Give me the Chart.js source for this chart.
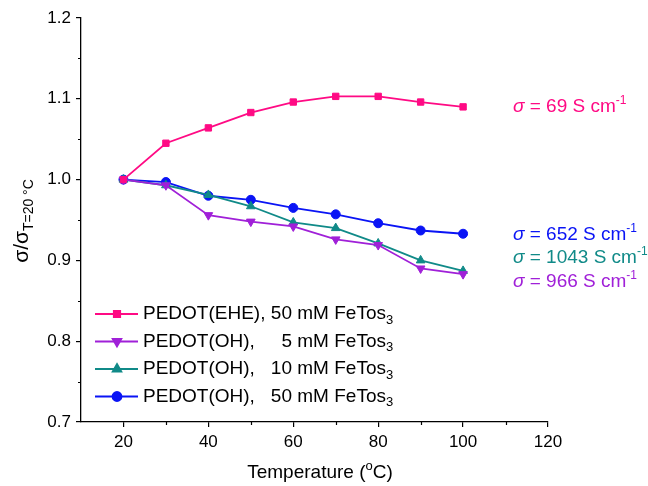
<!DOCTYPE html>
<html>
<head>
<meta charset="utf-8">
<script src="https://cdn.jsdelivr.net/npm/chart.js@4.4.0/dist/chart.umd.min.js"></script>
<style>
  html, body { margin: 0; padding: 0; background: #fff; }
</style>
</head>
<body>
<canvas id="c" width="648" height="486"></canvas>
<script>
// ---- data ----
const temps = [20, 30, 40, 50, 60, 70, 80, 90, 100];
const ehe50 = [1.000, 1.045, 1.064, 1.083, 1.096, 1.103, 1.103, 1.096, 1.090];
const oh5   = [1.000, 0.993, 0.956, 0.948, 0.942, 0.926, 0.919, 0.890, 0.883];
const oh10  = [1.000, 0.993, 0.981, 0.967, 0.947, 0.940, 0.921, 0.900, 0.887];
const oh50  = [1.000, 0.997, 0.980, 0.975, 0.965, 0.957, 0.946, 0.937, 0.933];

const seriesPolymer = ['PEDOT(EHE),', 'PEDOT(OH),', 'PEDOT(OH),', 'PEDOT(OH),'];
const seriesConc    = ['50', '5', '10', '50'];
const sigmaLabels   = ['69', '966', '1043', '652'];

const xTicks = [20, 40, 60, 80, 100, 120];
const xMinor = [30, 50, 70, 90, 110];
const yTicks = [0.7, 0.8, 0.9, 1.0, 1.1, 1.2];
const yMinor = [0.75, 0.85, 0.95, 1.05, 1.15];

const colors = ['#ff0a84', '#a020d8', '#108a88', '#0a14f5'];
const FONT = '"Liberation Sans", Arial, sans-serif';

const toPts = (ys) => temps.map((t, i) => ({ x: t, y: ys[i] }));

const datasets = [
    { data: toPts(ehe50), pointStyle: 'rect',     pointRotation: 0,   pointRadius: 4.5 },
    { data: toPts(oh5),   pointStyle: 'triangle', pointRotation: 180, pointRadius: 5 },
    { data: toPts(oh10),  pointStyle: 'triangle', pointRotation: 0,   pointRadius: 5 },
    { data: toPts(oh50),  pointStyle: 'circle',   pointRotation: 0,   pointRadius: 4.5 }
].map((d, i) => Object.assign(d, {
    label: seriesPolymer[i] + ' ' + seriesConc[i] + ' mM FeTos3',
    borderColor: colors[i],
    backgroundColor: colors[i],
    pointBackgroundColor: colors[i],
    pointBorderColor: colors[i],
    borderWidth: 1.8,
    pointBorderWidth: 1,
    tension: 0,
    fill: false
}));

// draws a run of text pieces, each with its own font / vertical shift
function richText(ctx, parts, x, y, align) {
    let total = 0;
    parts.forEach(p => { ctx.font = p.font; total += ctx.measureText(p.t).width; });
    let cx = align === 'center' ? x - total / 2 : x;
    ctx.textAlign = 'left';
    ctx.textBaseline = 'alphabetic';
    parts.forEach(p => {
        ctx.font = p.font;
        ctx.fillText(p.t, cx, y + (p.dy || 0));
        cx += ctx.measureText(p.t).width;
    });
}

const overlay = {
    id: 'overlay',
    afterDraw(chart) {
        const ctx = chart.ctx;
        const xs = chart.scales.x, ys = chart.scales.y;
        ctx.save();

        // minor ticks (shorter, outward)
        ctx.strokeStyle = '#000';
        ctx.lineWidth = 1.2;
        ctx.beginPath();
        xMinor.forEach(v => {
            const px = Math.round(xs.getPixelForValue(v)) + 0.5;
            ctx.moveTo(px, ys.bottom); ctx.lineTo(px, ys.bottom + 3);
        });
        yMinor.forEach(v => {
            const py = Math.round(ys.getPixelForValue(v)) + 0.5;
            ctx.moveTo(xs.left, py); ctx.lineTo(xs.left - 3, py);
        });
        ctx.stroke();

        // legend
        const rows = [314, 341.5, 369, 396.5];
        datasets.forEach((ds, i) => {
            const y = rows[i];
            ctx.strokeStyle = ds.borderColor;
            ctx.lineWidth = 1.8;
            ctx.beginPath(); ctx.moveTo(95, y); ctx.lineTo(138, y); ctx.stroke();
            ctx.fillStyle = ds.borderColor;
            Chart.helpers.drawPoint(ctx, { pointStyle: ds.pointStyle, radius: ds.pointRadius, rotation: ds.pointRotation, borderWidth: 1 }, 117, y);
            ctx.fillStyle = '#000';
            ctx.font = '19px ' + FONT;
            ctx.textBaseline = 'middle';
            ctx.textAlign = 'left';
            ctx.fillText(seriesPolymer[i], 143, y);
            ctx.textAlign = 'right';
            ctx.fillText(seriesConc[i], 292, y);
            ctx.textAlign = 'left';
            ctx.fillText(' mM FeTos', 292, y);
            const w = ctx.measureText(' mM FeTos').width;
            ctx.font = '13px ' + FONT;
            ctx.fillText('3', 292 + w, y + 6);
        });

        // conductivity labels at right
        const labY = [105, 280, 256, 233];
        sigmaLabels.forEach((s, i) => {
            ctx.fillStyle = colors[i];
            richText(ctx, [
                { t: 'σ', font: 'italic 19px ' + FONT },
                { t: ' = ' + s + ' S cm', font: '19px ' + FONT },
                { t: '-1', font: '12px ' + FONT, dy: -8 }
            ], 513, labY[i] + 7, 'left');
        });

        // axis titles
        ctx.fillStyle = '#000';
        richText(ctx, [
            { t: 'Temperature (', font: '19px ' + FONT },
            { t: 'o', font: '13px ' + FONT, dy: -8 },
            { t: 'C)', font: '19px ' + FONT }
        ], 320, 478, 'center');

        ctx.translate(28, 221);
        ctx.rotate(-Math.PI / 2);
        richText(ctx, [
            { t: 'σ/σ', font: '21px ' + FONT },
            { t: 'T=20 °C', font: '14px ' + FONT, dy: 5 }
        ], 0, 0, 'center');
        ctx.restore();
    }
};

new Chart(document.getElementById('c'), {
    type: 'line',
    data: { datasets },
    options: {
        responsive: false,
        devicePixelRatio: 1,
        animation: false,
        layout: { padding: { top: 18, right: 100, left: 0, bottom: 0 } },
        plugins: { legend: { display: false }, tooltip: { enabled: false } },
        scales: {
            x: {
                type: 'linear',
                min: 10, max: 120,
                afterFit: (s) => { s.height = 64; },
                afterBuildTicks: (s) => { s.ticks = xTicks.map(v => ({ value: v })); },
                ticks: {
                    autoSkip: false,
                    maxRotation: 0,
                    padding: 5,
                    color: '#000',
                    font: { family: FONT, size: 17 },
                    callback: (v) => String(v)
                },
                grid: { drawOnChartArea: false, drawTicks: true, tickLength: 5, color: '#000', lineWidth: 1.2 },
                border: { color: '#000', width: 1.3 }
            },
            y: {
                min: 0.7, max: 1.2,
                afterFit: (s) => { s.width = 81; },
                afterBuildTicks: (s) => { s.ticks = yTicks.map(v => ({ value: v })); },
                ticks: {
                    autoSkip: false,
                    padding: 5,
                    color: '#000',
                    font: { family: FONT, size: 17 },
                    callback: (v) => v.toFixed(1)
                },
                grid: { drawOnChartArea: false, drawTicks: true, tickLength: 5, color: '#000', lineWidth: 1.2 },
                border: { color: '#000', width: 1.3 }
            }
        }
    },
    plugins: [overlay]
});
</script>
</body>
</html>
